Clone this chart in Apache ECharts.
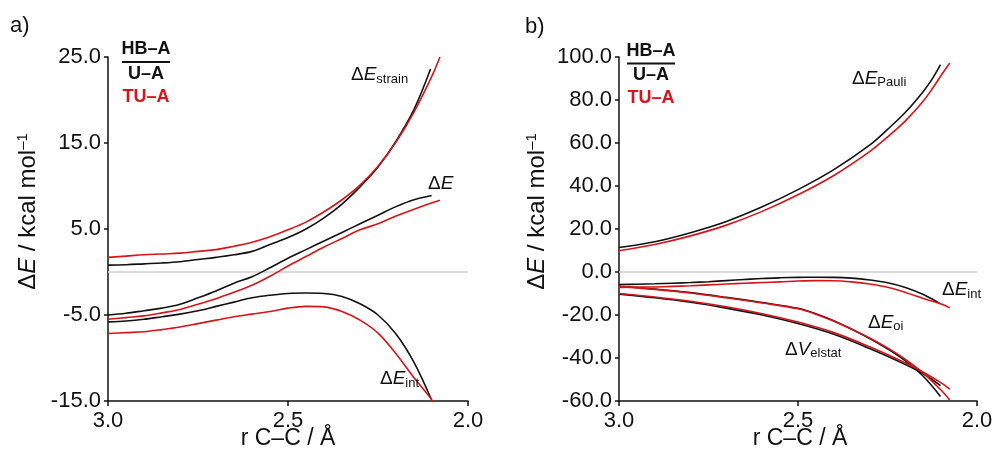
<!DOCTYPE html>
<html><head><meta charset="utf-8">
<script src="https://cdn.jsdelivr.net/npm/echarts@6/dist/echarts.min.js"></script>
<style>html,body{margin:0;padding:0;background:#fff}#c{width:992px;height:455px}</style>
</head><body><div id="c"></div>
<script>
// ---- data: [r C–C (Å), energy (kcal/mol)] ----
const xTicks = [3.0, 2.5, 2.0];
const yTicksA = [-15, -5, 5, 15, 25];
const yTicksB = [-60, -40, -20, 0, 20, 40, 60, 80, 100];

// panel a
const strainHB = [[3.0,0.8],[2.95,0.85],[2.9,0.95],[2.85,1.05],[2.8,1.2],[2.75,1.45],[2.7,1.7],[2.65,2.0],[2.6,2.4],[2.55,3.2],[2.5,4.0],[2.45,5.0],[2.4,6.3],[2.35,7.9],[2.3,9.9],[2.25,12.2],[2.2,15.2],[2.15,18.9],[2.104,23.6]];
const strainTU = [[3.0,1.7],[2.95,1.85],[2.9,2.0],[2.85,2.1],[2.8,2.2],[2.75,2.4],[2.7,2.6],[2.65,3.0],[2.6,3.45],[2.55,4.1],[2.5,4.9],[2.45,5.8],[2.4,7.0],[2.35,8.4],[2.3,10.1],[2.25,12.3],[2.2,15.1],[2.15,18.6],[2.1,22.8],[2.078,25.0]];
const dEHB = [[3.0,-5.0],[2.95,-4.8],[2.9,-4.5],[2.85,-4.2],[2.8,-3.75],[2.75,-3.0],[2.7,-2.2],[2.65,-1.3],[2.6,-0.55],[2.55,0.5],[2.5,1.6],[2.45,2.6],[2.4,3.6],[2.35,4.6],[2.3,5.6],[2.25,6.6],[2.2,7.6],[2.15,8.4],[2.101,8.9]];
const dETU = [[3.0,-5.5],[2.95,-5.3],[2.9,-5.1],[2.85,-4.75],[2.8,-4.35],[2.75,-3.75],[2.7,-3.1],[2.65,-2.35],[2.6,-1.55],[2.55,-0.5],[2.5,0.7],[2.45,1.8],[2.4,2.9],[2.35,3.9],[2.3,4.9],[2.25,5.6],[2.2,6.5],[2.15,7.3],[2.1,8.05],[2.078,8.35]];
const intHB = [[3.0,-5.8],[2.95,-5.7],[2.9,-5.5],[2.85,-5.2],[2.8,-4.9],[2.75,-4.5],[2.7,-4.0],[2.65,-3.5],[2.6,-3.0],[2.55,-2.7],[2.5,-2.5],[2.45,-2.45],[2.4,-2.5],[2.35,-2.85],[2.3,-3.7],[2.25,-5.0],[2.2,-7.2],[2.15,-10.5],[2.102,-14.8]];
const intTU = [[3.0,-7.15],[2.95,-7.05],[2.9,-6.95],[2.85,-6.7],[2.8,-6.4],[2.75,-6.0],[2.7,-5.6],[2.65,-5.2],[2.6,-4.9],[2.55,-4.6],[2.5,-4.2],[2.45,-4.0],[2.4,-4.05],[2.35,-4.6],[2.3,-5.6],[2.25,-7.1],[2.2,-9.5],[2.15,-12.3],[2.1,-14.9],[2.076,-16.7]];

// panel b
const pauliHB = [[3.0,11.4],[2.9,14.1],[2.8,18.3],[2.7,23.5],[2.6,30.3],[2.5,38.3],[2.4,47.6],[2.3,59.0],[2.25,66.3],[2.2,74.3],[2.15,84.0],[2.125,89.8],[2.102,96.4]];
const pauliTU = [[3.0,9.9],[2.9,12.8],[2.8,16.8],[2.7,21.8],[2.6,28.2],[2.5,35.9],[2.4,44.9],[2.3,56.0],[2.25,62.8],[2.2,70.3],[2.15,79.5],[2.125,85.2],[2.1,91.5],[2.076,97.2]];
const oiHB = [[3.0,-6.6],[2.9,-7.9],[2.8,-9.6],[2.7,-11.8],[2.6,-14.2],[2.5,-16.9],[2.45,-19.4],[2.4,-22.7],[2.35,-26.6],[2.3,-30.9],[2.25,-35.7],[2.2,-41.3],[2.15,-48.5],[2.102,-57.9]];
const oiTU = [[3.0,-6.8],[2.9,-8.1],[2.8,-9.8],[2.7,-12.0],[2.6,-14.4],[2.5,-17.1],[2.45,-19.6],[2.4,-22.9],[2.35,-26.6],[2.3,-30.7],[2.25,-35.3],[2.2,-40.6],[2.15,-47.0],[2.1,-55.0],[2.076,-59.6]];
const elstatHB = [[3.0,-10.3],[2.9,-12.0],[2.8,-14.1],[2.7,-16.8],[2.6,-20.0],[2.5,-24.0],[2.4,-29.0],[2.3,-35.6],[2.2,-43.0],[2.15,-47.3],[2.102,-52.8]];
const elstatTU = [[3.0,-10.0],[2.9,-11.6],[2.8,-13.6],[2.7,-16.2],[2.6,-19.4],[2.5,-23.3],[2.4,-28.2],[2.3,-34.8],[2.2,-42.3],[2.15,-46.6],[2.1,-51.6],[2.076,-54.5]];

const chart = echarts.init(document.getElementById('c'), null, {renderer: 'canvas'});
const FONT = '"Liberation Sans", Arial, Helvetica, sans-serif';
const BLACK = '#111111', RED = '#d7141b';

function xAx(gi) {
  return {type: 'value', gridIndex: gi, min: xTicks[2], max: xTicks[0], interval: 0.5, inverse: true,
    axisLine: {show: true, onZero: false, lineStyle: {color: BLACK, width: 1.5}},
    axisTick: {show: true, length: 5, lineStyle: {color: BLACK, width: 1.5}},
    axisLabel: {color: BLACK, fontSize: 22, fontFamily: FONT, margin: 9, formatter: v => v.toFixed(1)},
    splitLine: {show: false}};
}
function yAx(gi, ticks) {
  return {type: 'value', gridIndex: gi, min: ticks[0], max: ticks[ticks.length - 1], interval: ticks[1] - ticks[0],
    axisLine: {show: true, onZero: false, lineStyle: {color: BLACK, width: 1.5}},
    axisTick: {show: true, length: 4, lineStyle: {color: BLACK, width: 1.5}},
    axisLabel: {color: BLACK, fontSize: 22, fontFamily: FONT, margin: 7, formatter: v => v.toFixed(1)},
    splitLine: {show: false}};
}
function line(data, color, gi, zero) {
  const s = {type: 'line', data, xAxisIndex: gi, yAxisIndex: gi, smooth: 0.35, symbol: 'none', showSymbol: false,
    lineStyle: {color, width: 1.6}, itemStyle: {color}, clip: true, z: color === RED ? 4 : 3, silent: true};
  if (zero) s.markLine = {silent: true, symbol: ['none', 'none'], label: {show: false}, animation: false,
    lineStyle: {color: '#cfcfcf', width: 1.5, type: 'solid'}, data: [{yAxis: 0}], z: 1};
  return s;
}
function curveLabel(x, y, main, sub) {
  return {type: 'text', x, y, z: 10, style: {
    text: '{d|Δ}{e|' + main + '}' + (sub ? '{s|' + sub + '}' : ''),
    align: 'left', verticalAlign: 'middle', textAlign: 'left', textVerticalAlign: 'middle',
    rich: {
      d: {fontSize: 19, fontFamily: FONT, fill: BLACK, lineHeight: 21, verticalAlign: 'middle'},
      e: {fontSize: 19, fontFamily: FONT, fontStyle: 'italic', fill: BLACK, lineHeight: 21, verticalAlign: 'middle'},
      s: {fontSize: 13, fontFamily: FONT, fill: BLACK, lineHeight: 13, verticalAlign: 'bottom'}
    }}};
}
function yTitle(x, y) {
  return {type: 'text', x, y, rotation: Math.PI / 2, z: 10, style: {
    text: '{d|Δ}{e|E}{n| / kcal mol}{p|–1}',
    align: 'center', verticalAlign: 'middle', textAlign: 'center', textVerticalAlign: 'middle',
    rich: {
      d: {fontSize: 24, fontFamily: FONT, fill: BLACK, lineHeight: 26},
      e: {fontSize: 24, fontFamily: FONT, fontStyle: 'italic', fill: BLACK, lineHeight: 26},
      n: {fontSize: 24, fontFamily: FONT, fill: BLACK, lineHeight: 26},
      p: {fontSize: 15, fontFamily: FONT, fill: BLACK, lineHeight: 15, verticalAlign: 'top'}
    }}};
}
function txt(x, y, text, opts) {
  return {type: 'text', x, y, z: 10, style: Object.assign({text, fontFamily: FONT, fontSize: 22, fill: BLACK,
    align: 'center', verticalAlign: 'middle', textAlign: 'center', textVerticalAlign: 'middle'}, opts || {})};
}
function legend(cx, y0, lineY, x1, x2) {
  const b = {fontSize: 18, fontWeight: 'bold'};
  return [
    txt(cx, y0, 'HB–A', b),
    {type: 'line', z: 10, shape: {x1, y1: lineY, x2, y2: lineY}, style: {stroke: BLACK, lineWidth: 1.8}},
    txt(cx, y0 + 24.5, 'U–A', b),
    txt(cx, y0 + 47.5, 'TU–A', Object.assign({fill: RED}, b))
  ];
}

const option = {
  backgroundColor: '#ffffff',
  animation: false,
  grid: [
    {left: 108, top: 57, width: 360, height: 344, outerBoundsMode: 'none', containLabel: false},
    {left: 619, top: 57, width: 358, height: 344, outerBoundsMode: 'none', containLabel: false}
  ],
  xAxis: [xAx(0), xAx(1)],
  yAxis: [yAx(0, yTicksA), yAx(1, yTicksB)],
  series: [
    line(strainHB, BLACK, 0, true), line(dEHB, BLACK, 0), line(intHB, BLACK, 0),
    line(strainTU, RED, 0), line(dETU, RED, 0), line(intTU, RED, 0),
    line(pauliHB, BLACK, 1, true), line(intHB, BLACK, 1), line(oiHB, BLACK, 1), line(elstatHB, BLACK, 1),
    line(pauliTU, RED, 1), line(intTU, RED, 1), line(oiTU, RED, 1), line(elstatTU, RED, 1)
  ],
  graphic: [
    txt(10, 26, 'a)', {align: 'left', textAlign: 'left'}),
    txt(525, 26.5, 'b)', {align: 'left', textAlign: 'left'}),
    yTitle(28.5, 211.5),
    yTitle(537, 211.5),
    txt(288, 439, 'r C–C / Å', {fontSize: 23}),
    txt(800, 439, 'r C–C / Å', {fontSize: 23}),
    ...legend(146, 49.5, 62, 122, 170),
    ...legend(651, 51, 63.5, 627, 675),
    curveLabel(351, 75, 'E', 'strain'),
    curveLabel(428, 183.5, 'E', ''),
    curveLabel(380, 379, 'E', 'int'),
    curveLabel(852, 78.5, 'E', 'Pauli'),
    curveLabel(942, 290, 'E', 'int'),
    curveLabel(868, 322.5, 'E', 'oi'),
    curveLabel(785, 349.5, 'V', 'elstat')
  ]
};
chart.setOption(option);
</script>
</body></html>
